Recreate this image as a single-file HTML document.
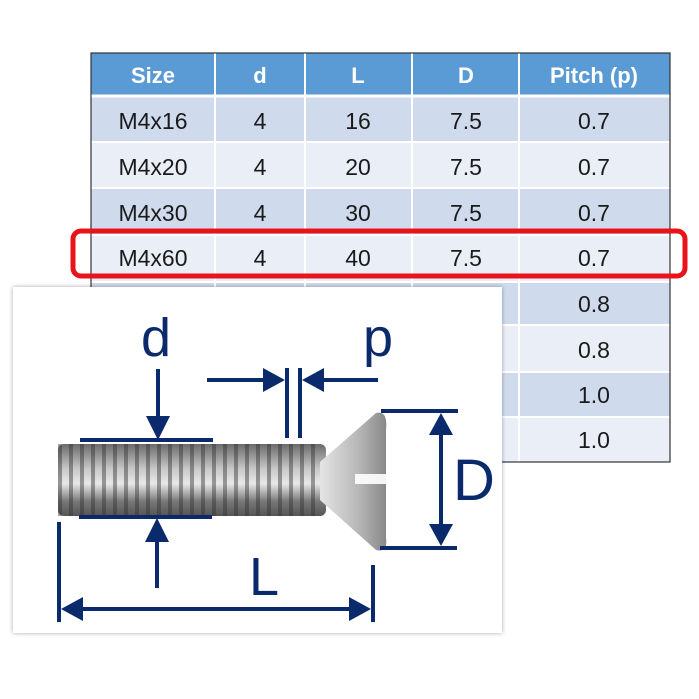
<!DOCTYPE html>
<html><head><style>
html,body{margin:0;padding:0;background:#fff;width:699px;height:699px;overflow:hidden}
svg{display:block}
.t{font-family:"Liberation Sans",sans-serif;font-size:23px;fill:#1a1a1a;text-anchor:middle}
.h{font-family:"Liberation Sans",sans-serif;font-size:22px;font-weight:bold;fill:#fff;text-anchor:middle}
.n{font-family:"Liberation Sans",sans-serif;fill:#0b2a6b;text-anchor:middle}
</style></head><body>
<svg width="699" height="699" viewBox="0 0 699 699" xmlns="http://www.w3.org/2000/svg">
<defs>
<linearGradient id="thr" x1="0" y1="0" x2="0" y2="1">
<stop offset="0" stop-color="#6b6b6b"/><stop offset="0.35" stop-color="#c9c9c9"/><stop offset="0.55" stop-color="#e8e8e8"/><stop offset="0.8" stop-color="#777"/><stop offset="1" stop-color="#555"/>
</linearGradient>
<linearGradient id="hd" x1="0" y1="0" x2="1" y2="0">
<stop offset="0" stop-color="#e5e5e5"/><stop offset="0.6" stop-color="#b5b5b5"/><stop offset="1" stop-color="#888"/>
</linearGradient>
<pattern id="ridge" x="58" y="0" width="11" height="10" patternUnits="userSpaceOnUse">
<rect x="0" y="0" width="4" height="10" fill="#333" opacity="0.45"/>
</pattern>
<filter id="sh" x="-5%" y="-5%" width="110%" height="110%"><feDropShadow dx="0" dy="0" stdDeviation="2" flood-color="#000" flood-opacity="0.35"/></filter>
</defs>
<rect x="91" y="53" width="579" height="42" fill="#5b9bd5"/>
<g>
<rect x="91" y="95" width="579" height="47" fill="#cfdbec"/>
<rect x="91" y="142" width="579" height="46" fill="#e9eef7"/>
<rect x="91" y="188" width="579" height="47" fill="#cfdbec"/>
<rect x="91" y="235" width="579" height="47" fill="#e9eef7"/>
<rect x="91" y="282" width="579" height="43" fill="#cfdbec"/>
<rect x="91" y="325" width="579" height="47" fill="#e9eef7"/>
<rect x="91" y="372" width="579" height="45" fill="#cfdbec"/>
<rect x="91" y="417" width="579" height="45" fill="#e9eef7"/>
</g>
<g stroke="#fff" stroke-width="2">
<line x1="215" y1="53" x2="215" y2="462"/><line x1="305" y1="53" x2="305" y2="462"/>
<line x1="412" y1="53" x2="412" y2="462"/><line x1="519" y1="53" x2="519" y2="462"/>
<line x1="91" y1="96" x2="670" y2="96" stroke-width="3"/>
<line x1="91" y1="142" x2="670" y2="142"/><line x1="91" y1="188" x2="670" y2="188"/>
<line x1="91" y1="235" x2="670" y2="235"/><line x1="91" y1="282" x2="670" y2="282"/>
<line x1="91" y1="325" x2="670" y2="325"/><line x1="91" y1="372" x2="670" y2="372"/>
<line x1="91" y1="417" x2="670" y2="417"/>
</g>
<rect x="91" y="53" width="579" height="409" fill="none" stroke="#333" stroke-width="1.2"/>
<text class="h" x="153" y="83">Size</text><text class="h" x="260" y="83">d</text><text class="h" x="358" y="83">L</text><text class="h" x="466" y="83">D</text><text class="h" x="594" y="83">Pitch (p)</text>
<text class="t" x="153" y="129">M4x16</text><text class="t" x="260" y="129">4</text><text class="t" x="358" y="129">16</text><text class="t" x="466" y="129">7.5</text><text class="t" x="594" y="129">0.7</text>
<text class="t" x="153" y="175">M4x20</text><text class="t" x="260" y="175">4</text><text class="t" x="358" y="175">20</text><text class="t" x="466" y="175">7.5</text><text class="t" x="594" y="175">0.7</text>
<text class="t" x="153" y="221">M4x30</text><text class="t" x="260" y="221">4</text><text class="t" x="358" y="221">30</text><text class="t" x="466" y="221">7.5</text><text class="t" x="594" y="221">0.7</text>
<text class="t" x="153" y="266">M4x60</text><text class="t" x="260" y="266">4</text><text class="t" x="358" y="266">40</text><text class="t" x="466" y="266">7.5</text><text class="t" x="594" y="266">0.7</text>
<text class="t" x="594" y="312">0.8</text><text class="t" x="594" y="358">0.8</text><text class="t" x="594" y="403">1.0</text><text class="t" x="594" y="448">1.0</text>
<rect x="73" y="231" width="612" height="45" rx="8" fill="none" stroke="#e8141a" stroke-width="5"/>
<rect x="13" y="287" width="489" height="346" fill="#fff" filter="url(#sh)"/>
<rect x="58" y="444" width="268" height="72" rx="6" fill="url(#thr)"/>
<rect x="58" y="444" width="262" height="72" fill="url(#ridge)"/>
<path d="M320 462 L376 413 Q388 410 386 430 L386 538 Q388 553 376 550 L320 500 Z" fill="url(#hd)"/>
<rect x="355" y="474" width="31" height="10" fill="#fff" opacity="0.9"/>
<g stroke="#0b2a6b" stroke-width="4" fill="none">
<line x1="80" y1="440" x2="213" y2="440"/><line x1="79" y1="517" x2="212" y2="517"/>
<line x1="158" y1="369" x2="158" y2="420"/><line x1="157" y1="540" x2="157" y2="588"/>
<line x1="59" y1="522" x2="59" y2="622"/><line x1="373" y1="565" x2="373" y2="622"/>
<line x1="75" y1="609" x2="357" y2="609"/>
<line x1="207" y1="380" x2="268" y2="380"/><line x1="320" y1="380" x2="378" y2="380"/>
<line x1="287" y1="368" x2="287" y2="438"/><line x1="300" y1="368" x2="300" y2="438"/>
<line x1="381" y1="411" x2="458" y2="411"/><line x1="380" y1="548" x2="457" y2="548"/>
<line x1="441" y1="430" x2="441" y2="530"/>
</g>
<g fill="#0b2a6b">
<polygon points="146,416 170,416 158,440"/>
<polygon points="145,542 169,542 157,518"/>
<polygon points="61,609 83,597 83,621"/>
<polygon points="371,609 349,597 349,621"/>
<polygon points="285,380 263,368 263,392"/>
<polygon points="302,380 324,368 324,392"/>
<polygon points="441,413 429,435 453,435"/>
<polygon points="441,546 429,524 453,524"/>
</g>
<text class="n" x="156" y="356" font-size="54">d</text>
<text class="n" x="378" y="356" font-size="54">p</text>
<text class="n" x="264" y="595" font-size="54">L</text>
<text class="n" x="474" y="500" font-size="58">D</text>
</svg>
</body></html>
